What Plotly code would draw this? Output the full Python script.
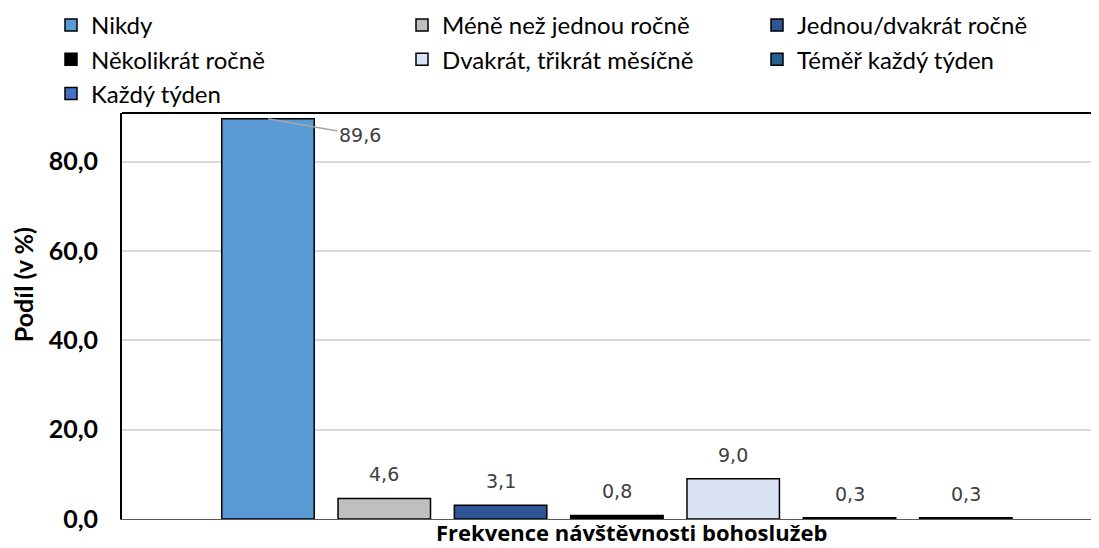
import plotly.graph_objects as go

# frekvence navstevnosti bohosluzeb, podil v %
kategorie = ['Nikdy', 'Méně než jednou ročně', 'Jednou/dvakrát ročně',
             'Několikrát ročně', 'Dvakrát, třikrát měsíčně',
             'Téměř každý týden', 'Každý týden']
podil = [89.6, 4.6, 3.1, 0.8, 9.0, 0.3, 0.3]
barvy = ['#5B9BD5', '#BFBFBF', '#2F5597', '#000000', '#DAE3F3', '#255E91', '#4472C4']
# which of the three legend columns each series goes to
legenda = ['legend', 'legend2', 'legend3', 'legend', 'legend2', 'legend3', 'legend']
y_ticks = [0, 20, 40, 60, 80]

fig = go.Figure()
for i, (name, val, col, leg) in enumerate(zip(kategorie, podil, barvy, legenda)):
    fig.add_trace(go.Bar(
        x=[i], y=[val], name=name, width=0.795,
        marker=dict(color=col, line=dict(color='black', width=1.5)),
        legend=leg, legendgroup=name,
    ))
    lbl = f'{val:.1f}'.replace('.', ',')
    if i == 0:
        fig.add_annotation(x=i, y=val, text=lbl, showarrow=True, arrowhead=0,
                           arrowcolor='#A6A6A6', arrowwidth=1.5, ax=92, ay=16,
                           font=dict(family='DejaVu Sans', size=19, color='#404040'))
    else:
        fig.add_annotation(x=i, y=val, text=lbl, showarrow=False, yanchor='bottom', yshift=11,
                           font=dict(family='DejaVu Sans', size=19, color='#404040'))

fig.add_annotation(text='Podíl (v %)', xref='paper', yref='paper', x=-0.1013, y=0.576,
                   xanchor='center', yanchor='middle', textangle=-90, showarrow=False,
                   font=dict(family='Lato', size=25, color='black', weight='bold'))
fig.add_annotation(text='Frekvence návštěvnosti bohoslužeb', xref='paper', yref='paper',
                   x=0.522, y=-0.031, xanchor='center', yanchor='middle', showarrow=False,
                   borderpad=0,
                   font=dict(family='Open Sans', size=22, color='black', weight='bold'))

# top edge of plot area
fig.add_shape(type='line', xref='paper', yref='paper', x0=0, x1=1, y0=1, y1=1,
              line=dict(color='black', width=2))

leg_style = dict(orientation='v', xref='paper', yref='paper', yanchor='top',
                 xanchor='left', y=1.271, font=dict(family='Lato', size=24, color='black'),
                 bgcolor='rgba(0,0,0,0)', traceorder='normal', tracegroupgap=2.5)
# page body adds 8px around the div, so the figure is 8px smaller than the window
fig.update_layout(
    width=1091, height=540,
    margin=dict(l=114, r=0, t=105, b=29, autoexpand=False),
    plot_bgcolor='white', paper_bgcolor='white',
    separators=', ',
    showlegend=True,
    legend=dict(leg_style, x=(51 - 122) / 977),
    legend2=dict(leg_style, x=(402 - 122) / 977),
    legend3=dict(leg_style, x=(757 - 122) / 977),
    xaxis=dict(range=[-1.255, 7.145], showticklabels=False, showgrid=False, zeroline=False,
               showline=True, linecolor='#595959', linewidth=1, fixedrange=True),
    yaxis=dict(range=[0, 90.9], tickvals=y_ticks, tickformat='.1f', showgrid=True,
               gridcolor='#D9D9D9', gridwidth=1.5, zeroline=False, showline=True,
               linecolor='black', linewidth=2, ticks='', ticklabelstandoff=17,
               tickfont=dict(family='Lato', size=25, color='black', weight='bold')),
)

fig.write_html('out.html')
